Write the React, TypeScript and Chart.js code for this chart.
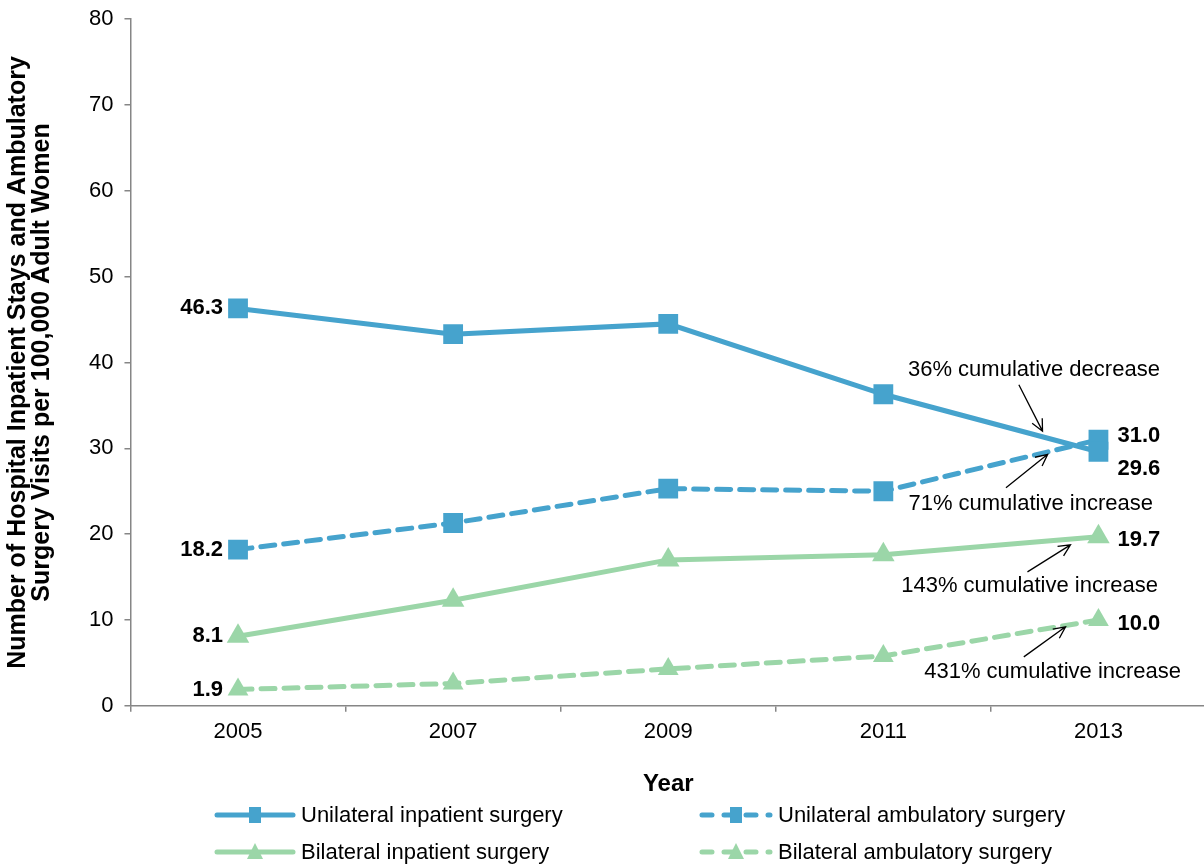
import React, { useEffect, useRef } from "react";
import { Chart, registerables } from "chart.js";

Chart.register(...registerables);

const years = ["2005", "2007", "2009", "2011", "2013"];
const yTicks = [0, 10, 20, 30, 40, 50, 60, 70, 80];
const unilateralInpatient = [46.3, 43.3, 44.5, 36.3, 29.6];
const unilateralAmbulatory = [18.2, 21.3, 25.3, 25.0, 31.0];
const bilateralInpatient = [8.1, 12.3, 17.0, 17.6, 19.7];
const bilateralAmbulatory = [1.9, 2.6, 4.3, 5.8, 10.0];
const seriesNames = [
  "Unilateral inpatient surgery",
  "Unilateral ambulatory surgery",
  "Bilateral inpatient surgery",
  "Bilateral ambulatory surgery",
];
const annotationTexts = [
  "36% cumulative decrease",
  "71% cumulative increase",
  "143% cumulative increase",
  "431% cumulative increase",
];

const BLUE = "#46A3CD";
const GREEN = "#9BD6A8";
const FONT = "'Liberation Sans', Arial, sans-serif";
const SHIFT = 5;

export default function App() {
  const ref = useRef<HTMLCanvasElement | null>(null);

  useEffect(() => {
    document.body.style.margin = "0";
    document.body.style.overflow = "hidden";
    const canvas = ref.current!;

    const labelsPlugin = {
      id: "labelsPlugin",
      afterDatasetsDraw(chart: any) {
        const ctx = chart.ctx;
        const xs = chart.scales.x;
        const ys = chart.scales.y;
        ctx.save();
        // data labels
        ctx.font = `bold 22px ${FONT}`;
        ctx.fillStyle = "#000";
        ctx.textBaseline = "middle";
        const firstOffsets = [0, 0, 0, 0];
        const lastOffsets = [17, -4, 3, 4];
        chart.data.datasets.forEach((ds: any, i: number) => {
          const meta = chart.getDatasetMeta(i);
          const p0 = meta.data[0];
          const pn = meta.data[meta.data.length - 1];
          ctx.textAlign = "right";
          ctx.fillText(ds.data[0].toFixed(1), p0.x - 15, p0.y + firstOffsets[i]);
          ctx.textAlign = "left";
          ctx.fillText(ds.data[ds.data.length - 1].toFixed(1), pn.x + 19, pn.y + lastOffsets[i]);
        });
        // annotations
        const ann = [
          { t: annotationTexts[0], tx: 3.70, ty: 39.1, ax1: 3.63, ay1: 37.4, ax2: 3.74, ay2: 32.0 },
          { t: annotationTexts[1], tx: 3.685, ty: 23.5, ax1: 3.57, ay1: 25.4, ax2: 3.764, ay2: 29.3 },
          { t: annotationTexts[2], tx: 3.68, ty: 14.0, ax1: 3.67, ay1: 15.6, ax2: 3.87, ay2: 18.75 },
          { t: annotationTexts[3], tx: 3.787, ty: 3.9, ax1: 3.653, ay1: 5.7, ax2: 3.847, ay2: 9.2 },
        ];
        const px = (v: number) => {
          const a = xs.getPixelForValue(0);
          const b = xs.getPixelForValue(1);
          return a + (b - a) * v;
        };
        ctx.font = `22px ${FONT}`;
        ctx.textAlign = "center";
        ctx.strokeStyle = "#000";
        ctx.lineWidth = 1.3;
        ann.forEach((a) => {
          ctx.fillText(a.t, px(a.tx), ys.getPixelForValue(a.ty));
          const x1 = px(a.ax1), y1 = ys.getPixelForValue(a.ay1);
          const x2 = px(a.ax2), y2 = ys.getPixelForValue(a.ay2);
          ctx.beginPath();
          ctx.moveTo(x1, y1);
          ctx.lineTo(x2, y2);
          const ang = Math.atan2(y2 - y1, x2 - x1);
          const hl = 13, hw = 0.45;
          ctx.moveTo(x2 - hl * Math.cos(ang - hw), y2 - hl * Math.sin(ang - hw));
          ctx.lineTo(x2, y2);
          ctx.lineTo(x2 - hl * Math.cos(ang + hw), y2 - hl * Math.sin(ang + hw));
          ctx.stroke();
        });
        ctx.restore();
      },
      afterDraw(chart: any) {
        const ctx = chart.ctx;
        ctx.save();
        const items = [
          { x: 215, y: 815 + SHIFT, ds: 0 },
          { x: 700, y: 815 + SHIFT, ds: 1 },
          { x: 215, y: 852 + SHIFT, ds: 2 },
          { x: 700, y: 852 + SHIFT, ds: 3 },
        ];
        items.forEach((it) => {
          const ds: any = chart.data.datasets[it.ds];
          const dashed = ds.borderDash && ds.borderDash.length;
          const w = dashed ? 72 : 80;
          ctx.strokeStyle = ds.borderColor;
          ctx.lineWidth = 5;
          ctx.lineCap = "round";
          ctx.setLineDash(dashed ? [10, 12] : []);
          ctx.beginPath();
          ctx.moveTo(it.x + 2, it.y);
          ctx.lineTo(it.x + w - 2, it.y);
          ctx.stroke();
          ctx.setLineDash([]);
          ctx.fillStyle = ds.borderColor;
          const cx = it.x + w / 2;
          if (ds.pointStyle === "rect") {
            ctx.fillRect(cx - 6, it.y - 8, 12, 16);
          } else {
            ctx.beginPath();
            ctx.moveTo(cx, it.y - 9);
            ctx.lineTo(cx + 8, it.y + 7);
            ctx.lineTo(cx - 8, it.y + 7);
            ctx.closePath();
            ctx.fill();
          }
          ctx.fillStyle = "#000";
          ctx.font = `22px ${FONT}`;
          ctx.textAlign = "left";
          ctx.textBaseline = "middle";
          ctx.fillText(seriesNames[it.ds], it.x + w + 6, it.y + 1);
        });
        ctx.restore();
      },
    };

    const mk = (label: string, data: number[], color: string, style: string, dashed: boolean, r: number) => ({
      label,
      data,
      borderColor: color,
      backgroundColor: color,
      pointBackgroundColor: color,
      pointBorderColor: color,
      borderWidth: 5,
      borderDash: dashed ? [14, 9] : [],
      borderCapStyle: "round",
      pointStyle: style,
      pointRadius: r,
      pointBorderWidth: 0,
      tension: 0,
      fill: false,
    });

    const chart = new Chart(canvas, {
      type: "line",
      data: {
        labels: years,
        datasets: [
          mk(seriesNames[0], unilateralInpatient, BLUE, "rect", false, 14),
          mk(seriesNames[1], unilateralAmbulatory, BLUE, "rect", true, 14),
          mk(seriesNames[2], bilateralInpatient, GREEN, "triangle", false, 13),
          mk(seriesNames[3], bilateralAmbulatory, GREEN, "triangle", true, 12),
        ] as any,
      },
      options: {
        responsive: false,
        animation: false,
        layout: { padding: { top: 0, right: 10, bottom: 68, left: 3 } },
        plugins: {
          legend: { display: false },
          tooltip: { enabled: false },
        },
        scales: {
          x: {
            type: "category",
            offset: true,
            grid: {
              offset: true,
              drawOnChartArea: false,
              drawTicks: true,
              tickLength: 6,
              color: "#868686",
              lineWidth: 1.5,
            },
            border: { color: "#868686", width: 1.5 },
            ticks: {
              color: "#000",
              font: { family: FONT, size: 22 },
              padding: 7,
            },
            title: {
              display: true,
              text: "Year",
              color: "#000",
              font: { family: FONT, size: 24, weight: "bold" },
              padding: { top: 18, bottom: 0 },
            },
          },
          y: {
            min: 0,
            max: 80,
            afterBuildTicks: (axis: any) => {
              axis.ticks = yTicks.map((v) => ({ value: v }));
            },
            grid: {
              drawOnChartArea: false,
              drawTicks: true,
              tickLength: 6,
              color: "#868686",
              lineWidth: 1.5,
            },
            border: { color: "#868686", width: 1.5 },
            ticks: {
              color: "#000",
              font: { family: FONT, size: 22 },
              padding: 11,
            },
            title: {
              display: true,
              text: [
                "Number of Hospital Inpatient Stays and Ambulatory",
                "Surgery Visits per 100,000 Adult Women",
              ],
              color: "#000",
              font: { family: FONT, size: 25, weight: "bold", lineHeight: 0.96 },
              padding: { top: 3, bottom: 24 },
            },
          },
        },
      },
      plugins: [labelsPlugin],
    } as any);

    return () => chart.destroy();
  }, []);

  return (
    <div style={{ position: "relative", width: 1204, height: 867, overflow: "hidden", background: "#fff" }}>
      <canvas
        ref={ref}
        width={1220}
        height={867 + SHIFT}
        style={{ display: "block", position: "absolute", left: 0, top: -SHIFT }}
      />
    </div>
  );
}
